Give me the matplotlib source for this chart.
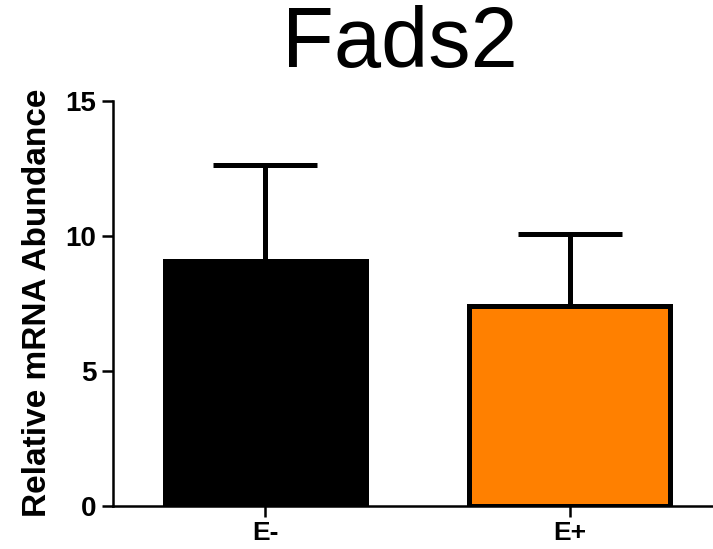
import matplotlib
matplotlib.use("Agg")
import matplotlib.pyplot as plt

categories = ["E-", "E+"]
means = [9.05, 7.38]
errors = [3.58, 2.70]
colors = ["#000000", "#FF8000"]
yticks = [0, 5, 10, 15]
title = "Fads2"
ylabel = "Relative mRNA Abundance"

plt.rcParams['font.family'] = ['Liberation Sans', 'DejaVu Sans']

fig = plt.figure(figsize=(7.13, 5.49), dpi=100)
ax = fig.add_axes([113/713, 43.3/549, 609/713, 405/549])

x = list(range(len(categories)))
ax.bar(x, means, width=0.66, color=colors, edgecolor="black", linewidth=3.6, zorder=3)
ax.errorbar(x, means, yerr=[[0]*len(errors), errors], fmt="none", ecolor="black",
            elinewidth=3.6, capsize=37.5, capthick=3.6, zorder=2)

ax.set_xlim(-0.5, 1.5)
ax.set_ylim(0, 15)
ax.set_yticks(yticks)
ax.set_xticks(x)
ax.set_xticklabels(categories, fontsize=19, fontweight="bold")
ax.set_yticklabels([str(t) for t in yticks], fontsize=20, fontweight="bold")
for s in ["top", "right"]:
    ax.spines[s].set_visible(False)
for s in ["left", "bottom"]:
    ax.spines[s].set_linewidth(1.8)
ax.tick_params(axis="y", direction="out", length=8, width=1.8, pad=4)
ax.tick_params(axis="x", direction="out", length=8, width=1.8, pad=3)
ax.set_ylabel(ylabel, fontsize=24, fontweight="bold", labelpad=9)

fig.text(400/713, 1 - 45/549, title, fontsize=61, ha="center", va="center")

fig.savefig("out.png", dpi=100)
